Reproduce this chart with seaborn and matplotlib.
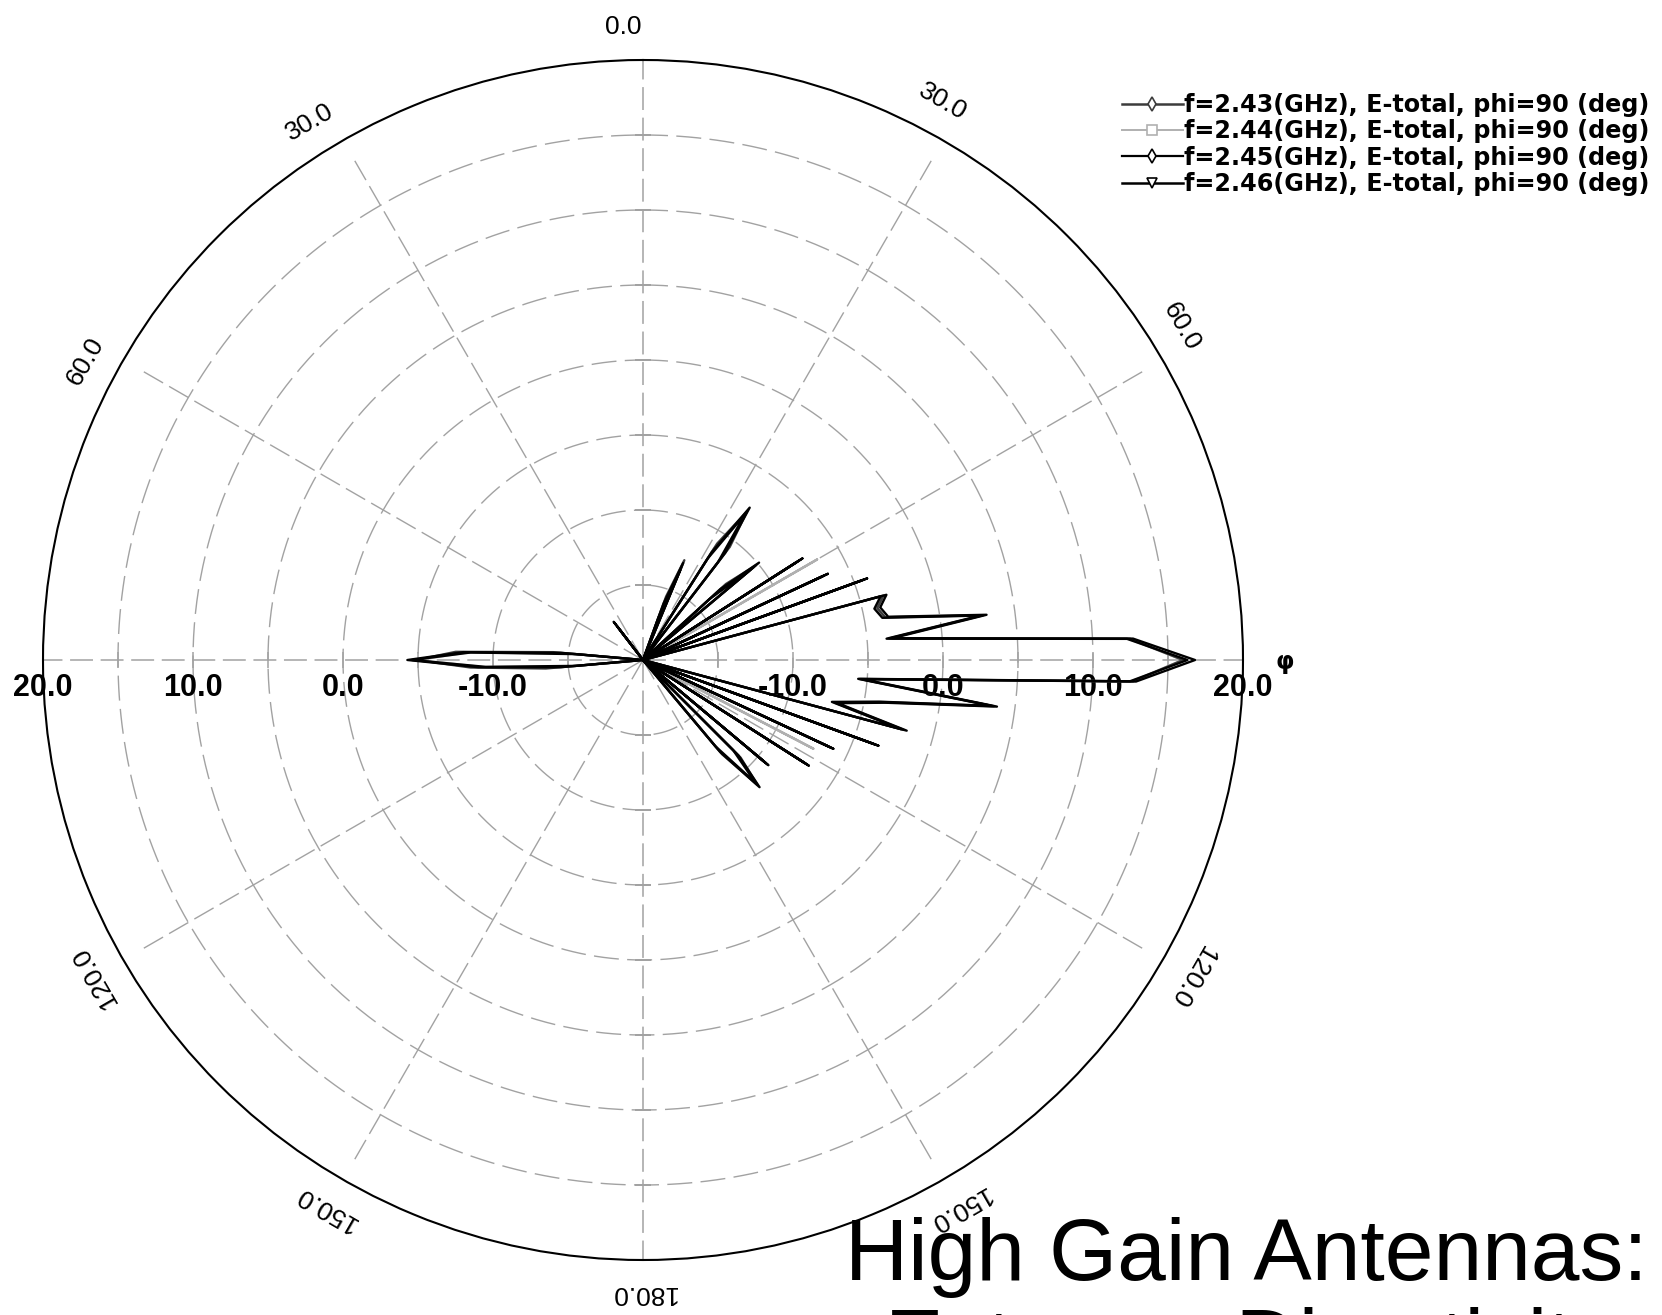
import numpy as np
import pandas as pd
import matplotlib
matplotlib.use("Agg")
import matplotlib.pyplot as plt
from matplotlib.lines import Line2D
import seaborn as sns

plt.rcParams['font.family'] = ['Liberation Sans', 'DejaVu Sans']

# ---------------- data (theta in degrees, clockwise from top; gain in dB) ----------------
THETA_DEG = [-180, -97.5, -95, -92.5, -90, -87.5, -85, -82.5,
             -40, -37.5, -35, -32.5,
             15, 17.5, 20, 22.5, 25, 27.5, 30, 32.5, 35, 37.5, 40,
             42.5, 45, 47.5, 50, 52.5, 55, 57.5, 60, 62.5, 65, 67.5, 70, 72.5,
             75, 77.5, 80, 82.5, 85, 87.5, 90, 92.5, 95, 97.5, 100, 102.5, 105, 107.5,
             110, 112.5, 115, 117.5, 120, 122.5, 125, 127.5, 130, 132.5, 135, 137.5, 140, 142.5,
             180]

GAIN_243 = [-20, -20, -13.5, -8.5, -4.9, -7.5, -14, -20,
            -20, -17.5, -20, -20,
            -20, -20, -15.5, -12.8, -20, -20, -20, -10.8, -7.9, -10.5, -20,
            -20, -20, -12.5, -10.2, -20, -20, -7.7, -20, -20, -6.7, -20, -4.4, -20,
            -3.4, -4.0, -3.6, 2.9, -3.5, 12.5, 16.0, 12.7, -5.5, 3.6, -3.8, -6.9, -2.0, -20,
            -3.5, -20, -6.2, -20, -20, -7.1, -20, -20, -9.3, -20, -10.8, -8.7, -11.8, -20,
            -20]
GAIN_244 = [-20, -20, -15, -9.3, -5.0, -8.3, -15, -20,
            -20, -17, -20, -20,
            -20, -20, -16.5, -13.2, -20, -20, -20, -11.2, -8.3, -11.5, -20,
            -20, -20, -13.5, -10.6, -20, -20, -20, -6.6, -20, -6.8, -20, -4.5, -20,
            -3.5, -4.1, -3.7, 2.8, -3.6, 12.4, 16.0, 12.6, -5.4, 3.5, -3.9, -7.0, -2.1, -20,
            -3.6, -20, -20, -7.2, -20, -7.2, -20, -20, -9.4, -20, -11.2, -8.8, -12.2, -20,
            -20]
GAIN_245 = [-20, -20, -15.5, -9.5, -4.6, -8.5, -15.5, -20,
            -20, -17.2, -20, -20,
            -20, -20, -17, -13.5, -20, -20, -20, -12, -8.1, -11.8, -20,
            -20, -20, -14, -10.4, -20, -20, -7.9, -20, -20, -6.9, -20, -4.6, -20,
            -3.6, -4.2, -3.8, 2.7, -3.7, 12.3, 16.3, 12.5, -5.6, 3.4, -4.0, -7.1, -2.2, -20,
            -3.7, -20, -6.4, -20, -20, -7.3, -20, -20, -9.5, -20, -11.5, -8.9, -12.5, -20,
            -20]
GAIN_246 = [-20, -20, -14.5, -9, -4.3, -8, -14.5, -20,
            -20, -16.8, -20, -20,
            -20, -20, -16, -13, -20, -20, -20, -11.5, -7.6, -11, -20,
            -20, -20, -13, -9.9, -20, -20, -7.4, -20, -20, -6.4, -20, -4.1, -20,
            -3.2, -3.8, -3.4, 3.1, -3.3, 12.7, 16.8, 12.9, -5.3, 3.8, -3.6, -6.7, -1.8, -20,
            -3.3, -20, -6.0, -20, -20, -6.9, -20, -20, -9.1, -20, -11, -8.5, -12, -20,
            -20]

SERIES = ["f=2.43(GHz), E-total, phi=90 (deg)",
          "f=2.44(GHz), E-total, phi=90 (deg)",
          "f=2.45(GHz), E-total, phi=90 (deg)",
          "f=2.46(GHz), E-total, phi=90 (deg)"]
SERIES_GAINS = [GAIN_243, GAIN_244, GAIN_245, GAIN_246]

RING_VALUES = [-15, -10, -5, 0, 5, 10, 15]
RADIAL_TICKS = [-10, 0, 10, 20]
RADIAL_LABELS = ["-10.0", "0.0", "10.0", "20.0"]
ANGLE_TICKS = [0, 30, 60, 120, 150, 180, -30, -60, -120, -150]
ANGLE_LABELS = ["0.0", "30.0", "60.0", "120.0", "150.0", "180.0", "30.0", "60.0", "120.0", "150.0"]

TITLE_1 = "High Gain Antennas:"
TITLE_2 = "Extreme Directivity"

# ---------------- figure ----------------
W, H = 1662, 1315
fig = plt.figure(figsize=(W / 100, H / 100), dpi=100)
cx, cy, R = 643, 660, 600
ax = fig.add_axes([(cx - R) / W, (H - cy - R) / H, 2 * R / W, 2 * R / H], projection='polar')
ax.set_theta_zero_location('N')
ax.set_theta_direction(-1)
ax.set_rlim(-20, 20)
ax.set_xticks([])
ax.set_yticks([])
ax.grid(False)
ax.spines['polar'].set_color('black')
ax.spines['polar'].set_linewidth(1.5)

grid_c = '#a2a2a2'
th = np.linspace(0, 2 * np.pi, 721)
for v in RING_VALUES:
    ax.plot(th, np.full_like(th, v), color=grid_c, lw=1.0, ls=(0, (18, 6)), zorder=1)
for a in [30, 60, 120, 150, 210, 240, 300, 330]:
    ax.plot([np.deg2rad(a)] * 2, [-20, 18.6], color=grid_c, lw=1.0, ls=(0, (16, 5)), zorder=1)
for a in [0, 90, 180, 270]:
    ax.plot([np.deg2rad(a)] * 2, [-20, 20], color=grid_c, lw=1.1, ls=(0, (15, 5)), zorder=1)
    mk = '_' if a in (0, 180) else '|'
    ax.plot([np.deg2rad(a)] * len(RING_VALUES), RING_VALUES, ls='none', marker=mk,
            markersize=11, color=grid_c, mew=1.1, zorder=1)

# ---------------- data lines (seaborn) ----------------
rows = []
for name, gains in zip(SERIES, SERIES_GAINS):
    for t, g in zip(THETA_DEG, gains):
        rows.append({"theta": np.deg2rad(t), "gain": g, "series": name})
df = pd.DataFrame(rows)
palette = {SERIES[0]: '#3c3c3c', SERIES[1]: '#b0b0b0', SERIES[2]: '#000000', SERIES[3]: '#000000'}
hue_order = [SERIES[1], SERIES[0], SERIES[2], SERIES[3]]
sns.lineplot(data=df, x="theta", y="gain", hue="series", hue_order=hue_order,
             palette=palette, sort=False, estimator=None, legend=False,
             linewidth=1.7, ax=ax, zorder=3)
ax.set_xlabel("")
ax.set_ylabel("")
ax.set_rlim(-20, 20)

# ---------------- labels ----------------
for t, lab in zip(ANGLE_TICKS, ANGLE_LABELS):
    shift = -1.8 if abs(t) < 90 else 0.0
    ax.text(np.deg2rad(t + shift), 22.2, lab, rotation=-t, rotation_mode='anchor',
            ha='center', va='center', fontsize=19, clip_on=False)

for v, lab in zip(RADIAL_TICKS, RADIAL_LABELS):
    for side in (-90, 90):
        ax.annotate(lab, xy=(np.deg2rad(side), v), xytext=(0, -20.5), textcoords='offset points',
                    ha='center', va='center', fontsize=22, fontweight='bold', zorder=2,
                    annotation_clip=False)

fig.text(1285 / W, 1 - 662 / H, "φ", fontsize=17, fontweight='bold', ha='center', va='center',
         family=['DejaVu Sans'])

# legend
styles = [('#3c3c3c', 'd', 1.8), ('#b0b0b0', 's', 1.4), ('#000000', 'd', 1.6), ('#000000', 'v', 1.8)]
handles = [Line2D([], [], color=c, lw=lw, marker=m, markersize=7, markerfacecolor='white',
                  markeredgecolor=c, markeredgewidth=1.2) for c, m, lw in styles]
fig.legend(handles, SERIES, loc='upper left', bbox_to_anchor=(1122 / W, 1 - 93 / H),
           frameon=False, handlelength=2.55, handletextpad=0.05, labelspacing=0.1,
           borderaxespad=0, borderpad=0,
           prop=dict(family=['DejaVu Sans'], weight='bold', size=17.2))

fig.text(845 / W, 1 - 1280 / H, TITLE_1, fontsize=63, ha='left', va='baseline')
fig.text(885 / W, 1 - 1370 / H, TITLE_2, fontsize=63, ha='left', va='baseline')

fig.savefig("out.png", dpi=100)
